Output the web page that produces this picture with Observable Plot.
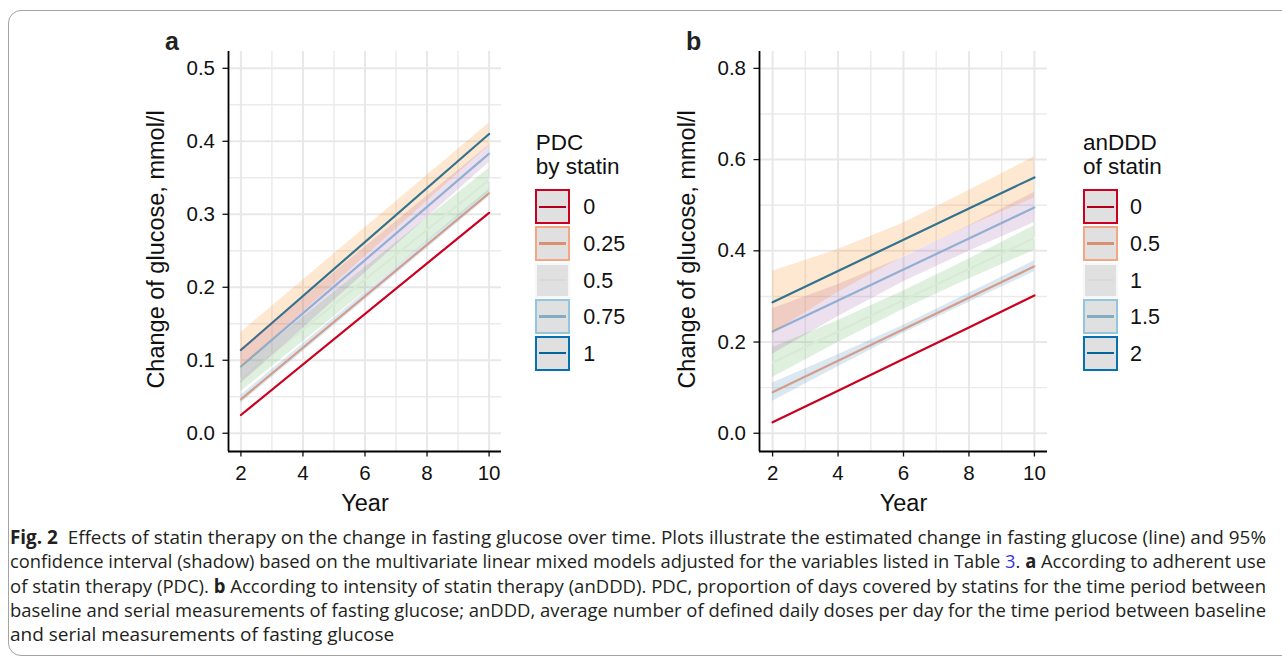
<!DOCTYPE html>
<html>
<head>
<meta charset="utf-8">
<script src="https://cdn.jsdelivr.net/npm/d3@7"></script>
<script src="https://cdn.jsdelivr.net/npm/@observablehq/plot@0.6"></script>
<style>
  html, body { margin: 0; padding: 0; background: #fff; }
  body { width: 1282px; height: 660px; overflow: hidden; position: relative; font-family: "Liberation Sans", Arial, sans-serif; color: #111; }
  #frame { position: absolute; left: 8px; top: 10px; width: 1300px; height: 646px; border: 1px solid #a3a3a3; border-radius: 13px; box-sizing: border-box; }
  .panel { position: absolute; top: 20px; }
  .letter { position: absolute; font-weight: bold; font-size: 25px; line-height: 1; color: #222; }
  .lg-title { position: absolute; font-size: 22.5px; line-height: 24.3px; white-space: pre; color: #111; }
  .lg-box { position: absolute; width: 35px; height: 35px; box-sizing: border-box; border: 2px solid; background: #e0e0e0; }
  .lg-line { position: absolute; left: 2px; right: 2px; top: 14.3px; height: 2.4px; }
  .lg-label { position: absolute; font-size: 21.5px; line-height: 1; color: #111; }
  #caption { position: absolute; left: 10px; top: 525px; font-family: "Open Sans", "Noto Sans", sans-serif; font-size: 19px; color: #231f20; }
  .cl { height: 24.25px; line-height: 24.25px; white-space: nowrap; }
  .cl span.inner { display: inline-block; transform-origin: 0 50%; }
  .link { color: #3535e0; }
</style>
</head>
<body>
<div id="frame"></div>
<div id="panelA" class="panel" style="left:130px"></div>
<div id="panelB" class="panel" style="left:660px"></div>
<div class="letter" style="left:165px; top:29px">a</div>
<div class="letter" style="left:686px; top:29px">b</div>
<div id="legendA"></div>
<div id="legendB"></div>
<div id="caption">
  <div class="cl"><span class="inner"><b>Fig. 2</b>&nbsp; Effects of statin therapy on the change in fasting glucose over time. Plots illustrate the estimated change in fasting glucose (line) and 95%</span></div>
  <div class="cl"><span class="inner">confidence interval (shadow) based on the multivariate linear mixed models adjusted for the variables listed in Table <span class="link">3</span>. <b>a</b> According to adherent use</span></div>
  <div class="cl"><span class="inner">of statin therapy (PDC). <b>b</b> According to intensity of statin therapy (anDDD). PDC, proportion of days covered by statins for the time period between</span></div>
  <div class="cl"><span class="inner">baseline and serial measurements of fasting glucose; anDDD, average number of defined daily doses per day for the time period between baseline</span></div>
  <div class="cl"><span class="inner last">and serial measurements of fasting glucose</span></div>
</div>
<script>
// ---------- data ----------
const xMajor = [2, 4, 6, 8, 10];
const xMinor = [3, 5, 7, 9];

// Panel a: PDC by statin
const yearsA = [2, 10];
const pdcLevels = ["0", "0.25", "0.5", "0.75", "1"];
const pdcFit  = [[0.025, 0.302], [0.0465, 0.329], [0.074, 0.347], [0.0915, 0.383], [0.114, 0.410]];
const pdcLow  = [[0.025, 0.302], [0.041, 0.324], [0.057, 0.331], [0.068, 0.371], [0.090, 0.394]];
const pdcHigh = [[0.025, 0.302], [0.052, 0.334], [0.091, 0.363], [0.115, 0.395], [0.138, 0.425]];
const yMajorA = [0, 0.1, 0.2, 0.3, 0.4, 0.5];
const yMinorA = [0.05, 0.15, 0.25, 0.35, 0.45];

// Panel b: anDDD of statin
const yearsB = [2, 4, 6, 8, 10];
const dddLevels = ["0", "0.5", "1", "1.5", "2"];
const dddFit  = [[0.024, 0.093, 0.163, 0.232, 0.302],
                 [0.090, 0.159, 0.228, 0.297, 0.366],
                 [0.155, 0.223, 0.292, 0.360, 0.428],
                 [0.223, 0.291, 0.359, 0.427, 0.495],
                 [0.287, 0.356, 0.424, 0.493, 0.561]];
const dddLow  = [[0.024, 0.093, 0.163, 0.232, 0.302],
                 [0.070, 0.146, 0.219, 0.287, 0.354],
                 [0.122, 0.199, 0.272, 0.338, 0.401],
                 [0.173, 0.256, 0.332, 0.399, 0.462],
                 [0.219, 0.309, 0.387, 0.454, 0.516]];
const dddHigh = [[0.024, 0.093, 0.163, 0.232, 0.302],
                 [0.110, 0.172, 0.237, 0.307, 0.378],
                 [0.188, 0.247, 0.312, 0.382, 0.455],
                 [0.273, 0.326, 0.386, 0.455, 0.528],
                 [0.355, 0.403, 0.461, 0.532, 0.606]];
const yMajorB = [0, 0.2, 0.4, 0.6, 0.8];
const yMinorB = [0.1, 0.3, 0.5, 0.7];

const lineColors   = ["#ca0020", "#f4a582", "#f7f7f7", "#92c5de", "#0571b0"];
const ribbonColors = ["#e41a1c", "#377eb8", "#4daf4a", "#984ea3", "#ff7f00"];

const xLabel = "Year";
const yLabel = "Change of glucose, mmol/l";
const FONT = "'Liberation Sans', Arial, Helvetica, sans-serif";

// ---------- panels ----------
function makePanel({years, levels, fit, low, high, yDomain, yMajor, yMinor, width, marginLeft, marginRight}) {
  const rows = levels.flatMap((lv, i) => years.map((yr, j) => ({
    level: lv, i, year: yr, fit: fit[i][j], low: low[i][j], high: high[i][j]
  })));
  return Plot.plot({
    width, height: 500,
    marginLeft, marginRight, marginTop: 31, marginBottom: 69,
    style: {fontFamily: FONT, fontSize: "20.5px", color: "#111", background: "transparent", overflow: "visible"},
    x: {domain: [1.6, 10.4]},
    y: {domain: yDomain},
    marks: [
      Plot.ruleX(xMinor, {stroke: "#ebebeb", strokeWidth: 1.4}),
      Plot.ruleY(yMinor, {stroke: "#ebebeb", strokeWidth: 1.4}),
      Plot.ruleX(xMajor, {stroke: "#e8e8e8", strokeWidth: 2}),
      Plot.ruleY(yMajor, {stroke: "#e8e8e8", strokeWidth: 2}),
      Plot.lineY(rows, {x: "year", y: "fit", z: "level", stroke: d => lineColors[d.i], strokeWidth: 2.2}),
      Plot.areaY(rows, {x: "year", y1: "low", y2: "high", z: "level", fill: d => ribbonColors[d.i], fillOpacity: 0.18}),
      Plot.axisX({ticks: xMajor, tickSize: 5.5, tickPadding: 8, strokeWidth: 1.3, fontSize: 20.5, label: null}),
      Plot.axisY({ticks: yMajor, tickFormat: d3.format(".1f"), tickSize: 5.5, tickPadding: 8, strokeWidth: 1.3, fontSize: 20.5, label: null}),
      Plot.ruleX([1.6], {stroke: "#000", strokeWidth: 1.8}),
      Plot.ruleY([yDomain[0]], {stroke: "#000", strokeWidth: 1.8}),
      Plot.text([xLabel], {frameAnchor: "bottom", dy: 59, lineAnchor: "bottom", textAnchor: "middle", fontSize: 23.5, fill: "#111"}),
      Plot.text([yLabel], {frameAnchor: "left", dx: -72, dy: -2, rotate: -90, lineAnchor: "middle", textAnchor: "middle", fontSize: 23.5, fill: "#111"})
    ]
  });
}

document.getElementById("panelA").append(makePanel({
  years: yearsA, levels: pdcLevels, fit: pdcFit, low: pdcLow, high: pdcHigh,
  yDomain: [-0.025, 0.523], yMajor: yMajorA, yMinor: yMinorA,
  width: 380, marginLeft: 98, marginRight: 9
}));
document.getElementById("panelB").append(makePanel({
  years: yearsB, levels: dddLevels, fit: dddFit, low: dddLow, high: dddHigh,
  yDomain: [-0.040, 0.837], yMajor: yMajorB, yMinor: yMinorB,
  width: 395, marginLeft: 99, marginRight: 8
}));

// ---------- legends ----------
function makeLegend(el, title, levels, left, labelLeft) {
  const t = document.createElement("div");
  t.className = "lg-title";
  t.style.left = left + "px"; t.style.top = "130.6px";
  t.textContent = title;
  el.append(t);
  levels.forEach((lv, i) => {
    const top = 189.3 + i * 36.6;
    const box = document.createElement("div");
    box.className = "lg-box";
    box.style.left = (left - 0.4) + "px"; box.style.top = top + "px";
    box.style.borderColor = lineColors[i];
    const ln = document.createElement("div");
    ln.className = "lg-line";
    const c = d3.rgb(lineColors[i]);
    ln.style.background = d3.rgb(c.r * 0.88, c.g * 0.88, c.b * 0.88).formatHex();
    box.append(ln);
    el.append(box);
    const lab = document.createElement("div");
    lab.className = "lg-label";
    lab.style.left = labelLeft + "px";
    lab.style.top = (top + 8) + "px";
    lab.textContent = lv;
    el.append(lab);
  });
}
makeLegend(document.getElementById("legendA"), "PDC\nby statin", pdcLevels, 535.7, 583.3);
makeLegend(document.getElementById("legendB"), "anDDD\nof statin", dddLevels, 1082.9, 1130);

// ---------- caption justification ----------
const target = 1256;
document.querySelectorAll("#caption .inner").forEach(sp => {
  if (sp.classList.contains("last")) return;
  const w = sp.getBoundingClientRect().width;
  if (w > target) {
    sp.style.transform = `scaleX(${target / w})`;
  } else {
    const spaces = (sp.textContent.match(/ /g) || []).length;
    sp.style.wordSpacing = ((target - w) / spaces) + "px";
  }
});
</script>
</body>
</html>
